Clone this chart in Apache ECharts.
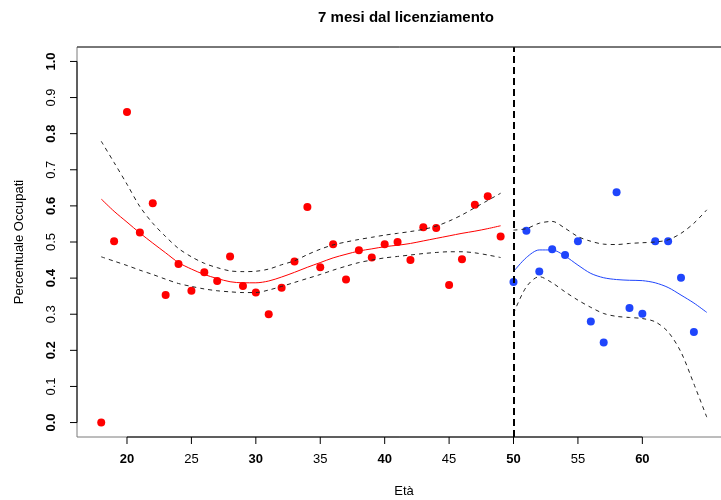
<!DOCTYPE html>
<html>
<head>
<meta charset="utf-8">
<script src="https://cdn.jsdelivr.net/npm/echarts@6/dist/echarts.min.js"></script>
<style>
  html, body { margin: 0; padding: 0; background: #fff; }
  #chart { width: 721px; height: 500px; }
</style>
</head>
<body>
<div id="chart"></div>
<script>
// Età dei lavoratori e quota di occupati a 7 mesi dal licenziamento
const ageLeft = [18,19,20,21,22,23,24,25,26,27,28,29,30,31,32,33,34,35,36,37,38,39,40,41,42,43,44,45,46,47,48,49];
const occLeft = [0.0,0.502,0.86,0.526,0.607,0.353,0.439,0.365,0.416,0.392,0.46,0.378,0.36,0.3,0.373,0.446,
                 0.597,0.43,0.494,0.396,0.477,0.457,0.494,0.5,0.45,0.541,0.539,0.381,0.452,0.603,0.627,0.515];

const ageRight = [50,51,52,53,54,55,56,57,58,59,60,61,62,63,64];
const occRight = [0.389,0.531,0.418,0.48,0.464,0.502,0.28,0.222,0.638,0.317,0.301,0.502,0.502,0.401,0.251];

// curva stimata e bande di confidenza, sotto i 50 anni
const fitAgeLeft = ageLeft;
const fitLeft   = [0.619,0.585,0.555,0.525,0.497,0.47,0.443,0.425,0.41,0.399,0.39,0.387,0.387,0.392,0.403,0.416,
                   0.43,0.443,0.456,0.466,0.475,0.481,0.487,0.491,0.496,0.503,0.51,0.517,0.524,0.53,0.537,0.545];
const upperLeft = [0.779,0.72,0.66,0.598,0.552,0.515,0.482,0.459,0.441,0.429,0.42,0.418,0.419,0.425,0.437,0.448,
                   0.465,0.48,0.492,0.5,0.507,0.513,0.519,0.524,0.529,0.535,0.544,0.558,0.575,0.595,0.615,0.635];
const lowerLeft = [0.459,0.447,0.435,0.422,0.41,0.397,0.385,0.377,0.37,0.365,0.362,0.36,0.36,0.367,0.377,0.388,
                   0.399,0.41,0.422,0.433,0.443,0.45,0.456,0.46,0.464,0.468,0.471,0.473,0.473,0.47,0.464,0.457];

// curva stimata e bande di confidenza, dai 50 anni in su
const fitAgeRight = [50,51,52,53,54,55,56,57,58,59,60,61,62,63,64,65];
const fitRight   = [0.418,0.457,0.478,0.478,0.461,0.436,0.413,0.401,0.396,0.394,0.393,0.387,0.374,0.353,0.331,0.305];
const upperRight = [0.533,0.537,0.552,0.557,0.538,0.515,0.502,0.494,0.493,0.496,0.498,0.5,0.506,0.524,0.552,0.589];
const lowerRight = [0.302,0.376,0.404,0.387,0.362,0.339,0.319,0.302,0.294,0.291,0.288,0.279,0.251,0.195,0.107,0.015];

const cutoffAge = 50;
const xTicks = [20,25,30,35,40,45,50,55,60];
const yTicks = [0.0,0.1,0.2,0.3,0.4,0.5,0.6,0.7,0.8,0.9,1.0];

const X_MIN = 16.12, X_MAX = 66.88;
const Y_MIN = -0.04, Y_MAX = 1.04;

const FONT = "'Liberation Sans', Arial, sans-serif";
const RED = '#ff0000';
const BLUE = '#1f45fc';
const DASH = '#222222';

const pairs = (xs, ys) => xs.map((x, i) => [x, ys[i]]);

const curve = (xs, ys, color, dashed) => ({
  type: 'line',
  data: pairs(xs, ys),
  symbol: 'none',
  smooth: 0.3,
  silent: true,
  z: 4,
  lineStyle: { color: color, width: 1, opacity: 1, type: dashed ? [4, 4] : 'solid' }
});

const segment = (a, b, color) => ({
  type: 'line',
  data: [a, b],
  symbol: 'none',
  clip: false,
  silent: true,
  z: 6,
  lineStyle: { color: color, width: 1 }
});

// piccoli trattini di graduazione, posizionati tramite le coordinate del grafico
const tickSeries = (values, dim) => ({
  type: 'custom',
  clip: false,
  silent: true,
  z: 6,
  data: values.map(v => [v]),
  renderItem: (params, api) => {
    const v = api.value(0);
    const p = dim === 'x' ? api.coord([v, Y_MIN]) : api.coord([X_MIN, v]);
    const shape = dim === 'x'
      ? { x1: p[0], y1: p[1], x2: p[0], y2: p[1] + 7 }
      : { x1: p[0], y1: p[1], x2: p[0] - 7, y2: p[1] };
    return { type: 'line', shape: shape, style: { stroke: '#000', lineWidth: 1 } };
  }
});

const labelRich = {
  b: { fontFamily: FONT, fontSize: 13, fontWeight: 'bold', color: '#000' },
  n: { fontFamily: FONT, fontSize: 13, fontWeight: 'normal', color: '#000' }
};

const chart = echarts.init(document.getElementById('chart'), null, { renderer: 'canvas' });

chart.setOption({
  animation: false,
  backgroundColor: '#ffffff',
  title: {
    text: '7 mesi dal licenziamento',
    left: 401,
    top: 5,
    textAlign: 'center',
    textStyle: { fontFamily: FONT, fontSize: 15, fontWeight: 'bold', color: '#000' }
  },
  grid: {
    left: 77, top: 47, width: 654, height: 390,
    show: true, borderColor: '#7a7a7a', borderWidth: 1, backgroundColor: 'transparent',
    outerBoundsMode: 'none', containLabel: false
  },
  xAxis: {
    type: 'value',
    min: X_MIN, max: X_MAX,
    name: 'Età',
    nameLocation: 'middle',
    nameGap: 48,
    nameTextStyle: { fontFamily: FONT, fontSize: 13, color: '#000' },
    splitLine: { show: false },
    axisLine: { show: false },
    axisTick: { show: false },
    axisLabel: {
      customValues: xTicks,
      margin: 16,
      rich: labelRich,
      formatter: v => (v % 10 === 0 ? '{b|' : '{n|') + v + '}'
    }
  },
  yAxis: {
    type: 'value',
    min: Y_MIN, max: Y_MAX,
    name: 'Percentuale Occupati',
    nameLocation: 'middle',
    nameGap: 51,
    nameTextStyle: { fontFamily: FONT, fontSize: 13, color: '#000' },
    splitLine: { show: false },
    axisLine: { show: false },
    axisTick: { show: false },
    axisLabel: {
      customValues: yTicks,
      rotate: 90,
      margin: 19,
      rich: labelRich,
      formatter: v => {
        const k = Math.round(v * 10);
        return (k % 2 === 0 ? '{b|' : '{n|') + v.toFixed(1) + '}';
      }
    }
  },
  series: [
    // tratti degli assi tra il primo e l'ultimo tick
    segment([xTicks[0], Y_MIN], [xTicks[xTicks.length - 1], Y_MIN], '#000'),
    segment([X_MIN, yTicks[0]], [X_MIN, yTicks[yTicks.length - 1]], '#000'),
    segment([X_MIN, Y_MAX], [X_MAX, Y_MAX], '#333'),
    tickSeries(xTicks, 'x'),
    tickSeries(yTicks, 'y'),
    {
      type: 'scatter',
      data: pairs(ageLeft, occLeft),
      symbol: 'circle',
      symbolSize: 8,
      z: 3,
      itemStyle: { color: RED, borderWidth: 0, opacity: 1 },
      markLine: {
        silent: true,
        symbol: 'none',
        label: { show: false },
        lineStyle: { color: '#000', width: 2, type: [7, 4], opacity: 1 },
        data: [{ xAxis: cutoffAge }]
      }
    },
    {
      type: 'scatter',
      data: pairs(ageRight, occRight),
      symbol: 'circle',
      symbolSize: 8,
      z: 3,
      itemStyle: { color: BLUE, borderWidth: 0, opacity: 1 }
    },
    curve(fitAgeLeft, fitLeft, RED, false),
    curve(fitAgeLeft, upperLeft, DASH, true),
    curve(fitAgeLeft, lowerLeft, DASH, true),
    curve(fitAgeRight, fitRight, BLUE, false),
    curve(fitAgeRight, upperRight, DASH, true),
    curve(fitAgeRight, lowerRight, DASH, true)
  ]
});
</script>
</body>
</html>
